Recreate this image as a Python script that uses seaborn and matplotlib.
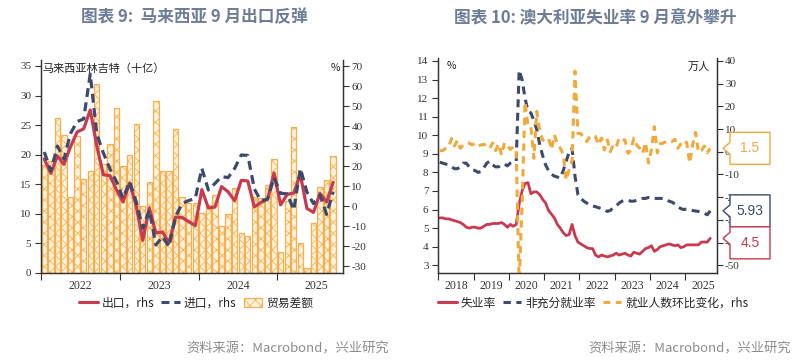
import numpy as np
import pandas as pd
import matplotlib
matplotlib.use("Agg")
import matplotlib.pyplot as plt
import seaborn as sns
from matplotlib.patches import Polygon, Patch
from matplotlib.lines import Line2D

# ---------------- data: Malaysia trade ----------------
my_year_labels = ["2022", "2023", "2024", "2025"]
trade_balance = [18.3, 19.0, 26.2, 23.3, 12.8, 23.1, 15.9, 17.2, 31.9, 18.4, 21.8, 27.9,
                 18.1, 20.0, 25.2, 11.3, 15.4, 29.0, 17.3, 17.3, 24.4, 12.9, 11.9, 11.8,
                 10.1, 11.5, 13.1, 8.0, 10.0, 14.4, 6.8, 6.3, 12.9, 12.6, 14.8, 19.3,
                 3.6, 12.1, 24.7, 5.1, 0.8, 8.4, 14.6, 15.8, 19.8]
exports_yoy = [23.5, 16.3, 25.0, 20.8, 29.7, 37.0, 38.6, 48.0, 30.0, 15.6, 15.2, 8.0,
               2.0, 11.5, 0.0, -17.2, -1.0, -13.5, -13.0, -18.3, -5.5, -5.8, -7.8, -9.8,
               8.2, -1.0, -0.5, 9.7, 7.1, 2.6, 12.8, 12.5, -0.5, 1.8, 3.4, 16.5,
               0.6, 5.8, 6.5, 15.7, -1.2, -3.2, 6.3, 2.0, 11.9]
imports_yoy = [27.0, 17.6, 30.0, 23.5, 36.3, 42.2, 43.5, 66.0, 36.0, 26.5, 18.5, 12.2,
               3.8, 12.2, 2.2, -11.2, -2.0, -19.5, -15.3, -20.3, -5.3, 1.3, 2.7, 3.8,
               18.8, 8.0, 11.3, 14.7, 14.2, 18.8, 25.5, 25.3, 8.5, 2.6, 3.4, 14.2,
               6.3, 6.1, -2.0, 18.8, 7.0, 1.2, 5.5, -4.2, 7.2]

# ---------------- data: Australia labour ----------------
au_year_labels = ["2018", "2019", "2020", "2021", "2022", "2023", "2024", "2025"]
unemp_rate = [5.55, 5.55, 5.5, 5.5, 5.45, 5.4, 5.35, 5.3, 5.2, 5.05, 5.0, 5.05,
              5.05, 5.0, 5.0, 5.1, 5.2, 5.2, 5.25, 5.25, 5.25, 5.3, 5.2, 5.05,
              5.2, 5.1, 5.2, 6.3, 7.0, 7.4, 7.45, 6.85, 6.95, 6.95, 6.8, 6.55,
              6.35, 5.95, 5.75, 5.55, 5.2, 5.0, 4.75, 4.6, 4.65, 5.2, 4.6, 4.25,
              4.15, 4.05, 3.95, 3.9, 3.9, 3.55, 3.45, 3.55, 3.5, 3.45, 3.5, 3.55,
              3.65, 3.55, 3.6, 3.65, 3.55, 3.5, 3.7, 3.65, 3.6, 3.75, 3.9, 3.95,
              4.05, 3.75, 3.85, 4.0, 4.05, 4.1, 4.15, 4.1, 4.05, 4.1, 3.95, 4.0,
              4.1, 4.1, 4.1, 4.1, 4.1, 4.25, 4.25, 4.25, 4.45]
underemp_rate = [8.55, 8.5, 8.45, 8.4, 8.3, 8.2, 8.2, 8.3, 8.5, 8.5, 8.3, 8.15,
                 8.1, 8.0, 8.05, 8.25, 8.5, 8.6, 8.4, 8.3, 8.3, 8.4, 8.45, 8.35,
                 8.5, 8.55, 8.6, 13.5, 13.0, 12.0, 11.3, 11.2, 10.8, 10.3, 9.5, 8.9,
                 8.4, 8.1, 7.9, 7.8, 7.75, 7.7, 8.1, 8.6, 9.1, 9.3, 7.8, 6.8,
                 6.6, 6.45, 6.35, 6.25, 6.2, 6.15, 6.1, 6.05, 6.0, 5.9, 5.95, 6.1,
                 6.2, 6.35, 6.45, 6.5, 6.5, 6.45, 6.45, 6.5, 6.55, 6.6, 6.6, 6.65,
                 6.65, 6.6, 6.6, 6.6, 6.6, 6.55, 6.45, 6.4, 6.3, 6.15, 6.05, 6.0,
                 6.03, 6.0, 5.95, 5.92, 5.9, 5.85, 5.8, 5.72, 5.93]
emp_change = [0.5, 0.5, 1.5, 2.0, 5.8, 2.5, 5.0, 1.5, 3.0, 3.5, 3.8, 3.0,
              3.7, 2.5, 3.0, 3.2, 2.8, 1.5, 3.9, 0.5, 3.5, -1.5, 3.9, 2.9,
              1.0, 2.2, 0.5, -59.0, -23.0, 22.0, 11.4, 11.1, -2.9, 17.8, 9.0, 5.0,
              6.0, 6.0, 1.0, 7.4, 3.5, 1.5, -1.0, -12.5, -8.0, -4.0, 35.5, 8.0,
              8.0, 6.0, 4.5, 6.5, 7.4, 6.7, 3.0, 6.0, 0.8, 5.2, 0.0, 3.0,
              2.0, 6.0, 5.0, 5.2, -0.7, 0.5, 6.0, 3.0, 1.5, -0.7, 4.0, -5.0,
              1.0, 11.0, -0.5, 3.5, 3.8, 4.5, 5.0, 4.5, 5.5, 1.5, 3.5, 5.0,
              4.0, -5.0, 3.0, 8.5, -0.2, 0.5, 2.5, -0.5, 1.5]

# ---------------- style ----------------
RED = "#C73A4F"
NAVY = "#3D4A6B"
ORANGE = "#F2A93B"
BAR_EDGE = "#F4B04E"
BAR_FILL = "#FEF1DC"
TITLE_C = "#6E7D96"
SPINE_C = "#333333"

sns.set_theme(style="white")
plt.rcParams['font.family'] = ['Noto Sans CJK SC', 'DejaVu Sans']
plt.rcParams['hatch.linewidth'] = 0.55
plt.rcParams['hatch.color'] = BAR_EDGE
plt.rcParams['axes.unicode_minus'] = False

W, H = 809, 360
fig = plt.figure(figsize=(W / 100, H / 100), dpi=100)


def style_axes(ax, axr, year_labels, xmin, months_per_year=12):
    for a in (ax, axr):
        a.spines['top'].set_visible(False)
        for s in ('left', 'right', 'bottom'):
            a.spines[s].set_color(SPINE_C)
            a.spines[s].set_linewidth(0.9)
        a.set_xlabel("")
        a.set_ylabel("")
        a.grid(False)
    ax.tick_params(axis='y', which='major', direction='out', length=4, width=0.8,
                   labelsize=8, pad=3, colors=SPINE_C, labelfontfamily='Liberation Serif',
                   left=True)
    axr.tick_params(axis='y', which='major', direction='out', length=4, width=0.8,
                    labelsize=8, pad=2, colors=SPINE_C, labelfontfamily='Liberation Serif',
                    right=True)
    n = len(year_labels)
    ax.set_xticks([xmin + i * months_per_year for i in range(n)])
    ax.set_xticks([xmin + i * months_per_year + months_per_year / 2 for i in range(n)], minor=True)
    ax.set_xticklabels([""] * n)
    ax.set_xticklabels(year_labels, minor=True)
    ax.tick_params(axis='x', which='major', direction='out', length=5, width=0.8,
                   colors=SPINE_C, bottom=True)
    ax.tick_params(axis='x', which='minor', length=0, labelsize=8.5, pad=5,
                   labelfontfamily='Liberation Serif', labelcolor=SPINE_C, bottom=True)


# ================= left chart =================
ax1 = fig.add_axes([41 / W, (H - 273) / H, 302 / W, 213 / H])
ax1r = ax1.twinx()

x_my = np.arange(len(trade_balance))
df_my = pd.DataFrame({"x": x_my, "bal": trade_balance,
                      "exp": exports_yoy, "imp": imports_yoy})

sns.barplot(data=df_my, x="x", y="bal", ax=ax1, native_scale=True, width=0.82,
            color=BAR_FILL, saturation=1, edgecolor=BAR_EDGE, linewidth=0.9,
            hatch="xxx", zorder=2)
sns.lineplot(data=df_my, x="x", y="exp", ax=ax1r, color=RED, linewidth=2.3)
sns.lineplot(data=df_my, x="x", y="imp", ax=ax1r, color=NAVY, linewidth=2.3)
ax1r.lines[-1].set_dashes((2.8, 1.7))

ax1.set_xlim(-0.5, 45.5)
ax1.set_ylim(0, 36)
ax1.set_yticks(np.arange(0, 36, 5))
ax1r.set_ylim(-33.5, 73)
ax1r.set_yticks(np.arange(-30, 71, 10))
style_axes(ax1, ax1r, my_year_labels, -0.5)

ax1.text(0.005, 0.985, "马来西亚林吉特（十亿）", transform=ax1.transAxes, ha='left', va='top',
         fontsize=8, color="#222222", zorder=5)
ax1.text(0.99, 0.985, "%", transform=ax1.transAxes, ha='right', va='top',
         fontsize=7.5, color="#222222", zorder=5)

# ================= right chart =================
ax2 = fig.add_axes([438.3 / W, (H - 272.7) / H, 278.4 / W, 214.7 / H])
ax2r = ax2.twinx()

x_au = np.arange(len(unemp_rate)) + 0.5
df_au = pd.DataFrame({"x": x_au, "u": unemp_rate, "uu": underemp_rate, "e": emp_change})

sns.lineplot(data=df_au, x="x", y="u", ax=ax2, color=RED, linewidth=2.0)
sns.lineplot(data=df_au, x="x", y="uu", ax=ax2, color=NAVY, linewidth=2.2)
ax2.lines[-1].set_dashes((2.6, 1.8))
sns.lineplot(data=df_au, x="x", y="e", ax=ax2r, color=ORANGE, linewidth=2.2)
ax2r.lines[-1].set_dashes((2.4, 1.8))

ax2.set_xlim(0, 94.7)
ax2.set_ylim(2.6, 14.16)
ax2.set_yticks(np.arange(3, 15, 1))
ax2r.set_ylim(-53.3, 41.3)
ax2r.set_yticks(np.arange(-50, 41, 10))
style_axes(ax2, ax2r, au_year_labels, 0)

ax2.text(0.03, 0.985, "%", transform=ax2.transAxes, ha='left', va='top',
         fontsize=7.5, color="#222222")
ax2.text(0.975, 0.985, "万人", transform=ax2.transAxes, ha='right', va='top',
         fontsize=8, color="#222222")

# ---------- value callouts ----------
callouts = [
    (emp_change[-1], ax2r, ORANGE, "1.5"),
    (underemp_rate[-1], ax2, NAVY, "5.93"),
    (unemp_rate[-1], ax2, RED, "4.5"),
]
box_h = 32
box_l, box_r, tip_x = 730, 770, 723
items = []
for val, axx, col, lab in callouts:
    y = axx.transData.transform((0, val))[1]
    items.append([y, y, col, lab])
items.sort(key=lambda t: -t[0])
for i in range(1, len(items)):
    if items[i - 1][1] - items[i][1] < box_h:
        items[i][1] = items[i - 1][1] - box_h
for ytip, yc, col, lab in items:
    pts = [(box_l, yc + box_h / 2), (box_r, yc + box_h / 2), (box_r, yc - box_h / 2),
           (box_l, yc - box_h / 2), (box_l, ytip - 6), (tip_x, ytip), (box_l, ytip + 6)]
    pts = [(px / W, py / H) for px, py in pts]
    fig.patches.append(Polygon(pts, closed=True, transform=fig.transFigure,
                               facecolor="white", edgecolor=col, linewidth=1.0, zorder=5))
    fig.text((box_l + box_r) / 2 / W, yc / H, lab, ha='center', va='center',
             fontsize=10, color=col, family='Liberation Sans', zorder=6)

# ---------- titles ----------
fig.text(194 / W, 1 - 17 / H, "图表 9:  马来西亚 9 月出口反弹", ha='center', va='center',
         fontsize=12, color=TITLE_C, fontweight='bold')
fig.text(595 / W, 1 - 17 / H, "图表 10: 澳大利亚失业率 9 月意外攀升", ha='center', va='center',
         fontsize=12, color=TITLE_C, fontweight='bold')

# ---------- legends ----------
h_left = [Line2D([], [], color=RED, lw=2.2),
          Line2D([], [], color=NAVY, lw=2.2, dashes=(2.6, 1.6)),
          Patch(facecolor=BAR_FILL, edgecolor=BAR_EDGE, hatch="xxx", linewidth=0.9)]
fig.legend(h_left, ["出口，rhs", "进口，rhs", "贸易差额"], loc='center',
           bbox_to_anchor=(196 / W, 1 - 303 / H), ncol=3, frameon=False, fontsize=8.5,
           handlelength=1.6, handletextpad=0.3, columnspacing=0.6, borderaxespad=0)
h_right = [Line2D([], [], color=RED, lw=2.2),
           Line2D([], [], color=NAVY, lw=2.2, dashes=(2.4, 1.8)),
           Line2D([], [], color=ORANGE, lw=2.2, dashes=(2.2, 1.8))]
fig.legend(h_right, ["失业率", "非充分就业率", "就业人数环比变化，rhs"], loc='center',
           bbox_to_anchor=(593 / W, 1 - 303 / H), ncol=3, frameon=False, fontsize=8.5,
           handlelength=1.6, handletextpad=0.3, columnspacing=0.6, borderaxespad=0)

# ---------- sources ----------
fig.text(389 / W, 1 - 349 / H, "资料来源：Macrobond，兴业研究", ha='right', va='center',
         fontsize=9.5, color="#8C8C8C")
fig.text(791 / W, 1 - 349 / H, "资料来源：Macrobond，兴业研究", ha='right', va='center',
         fontsize=9.5, color="#8C8C8C")

fig.savefig("out.png", dpi=100, facecolor="white")
